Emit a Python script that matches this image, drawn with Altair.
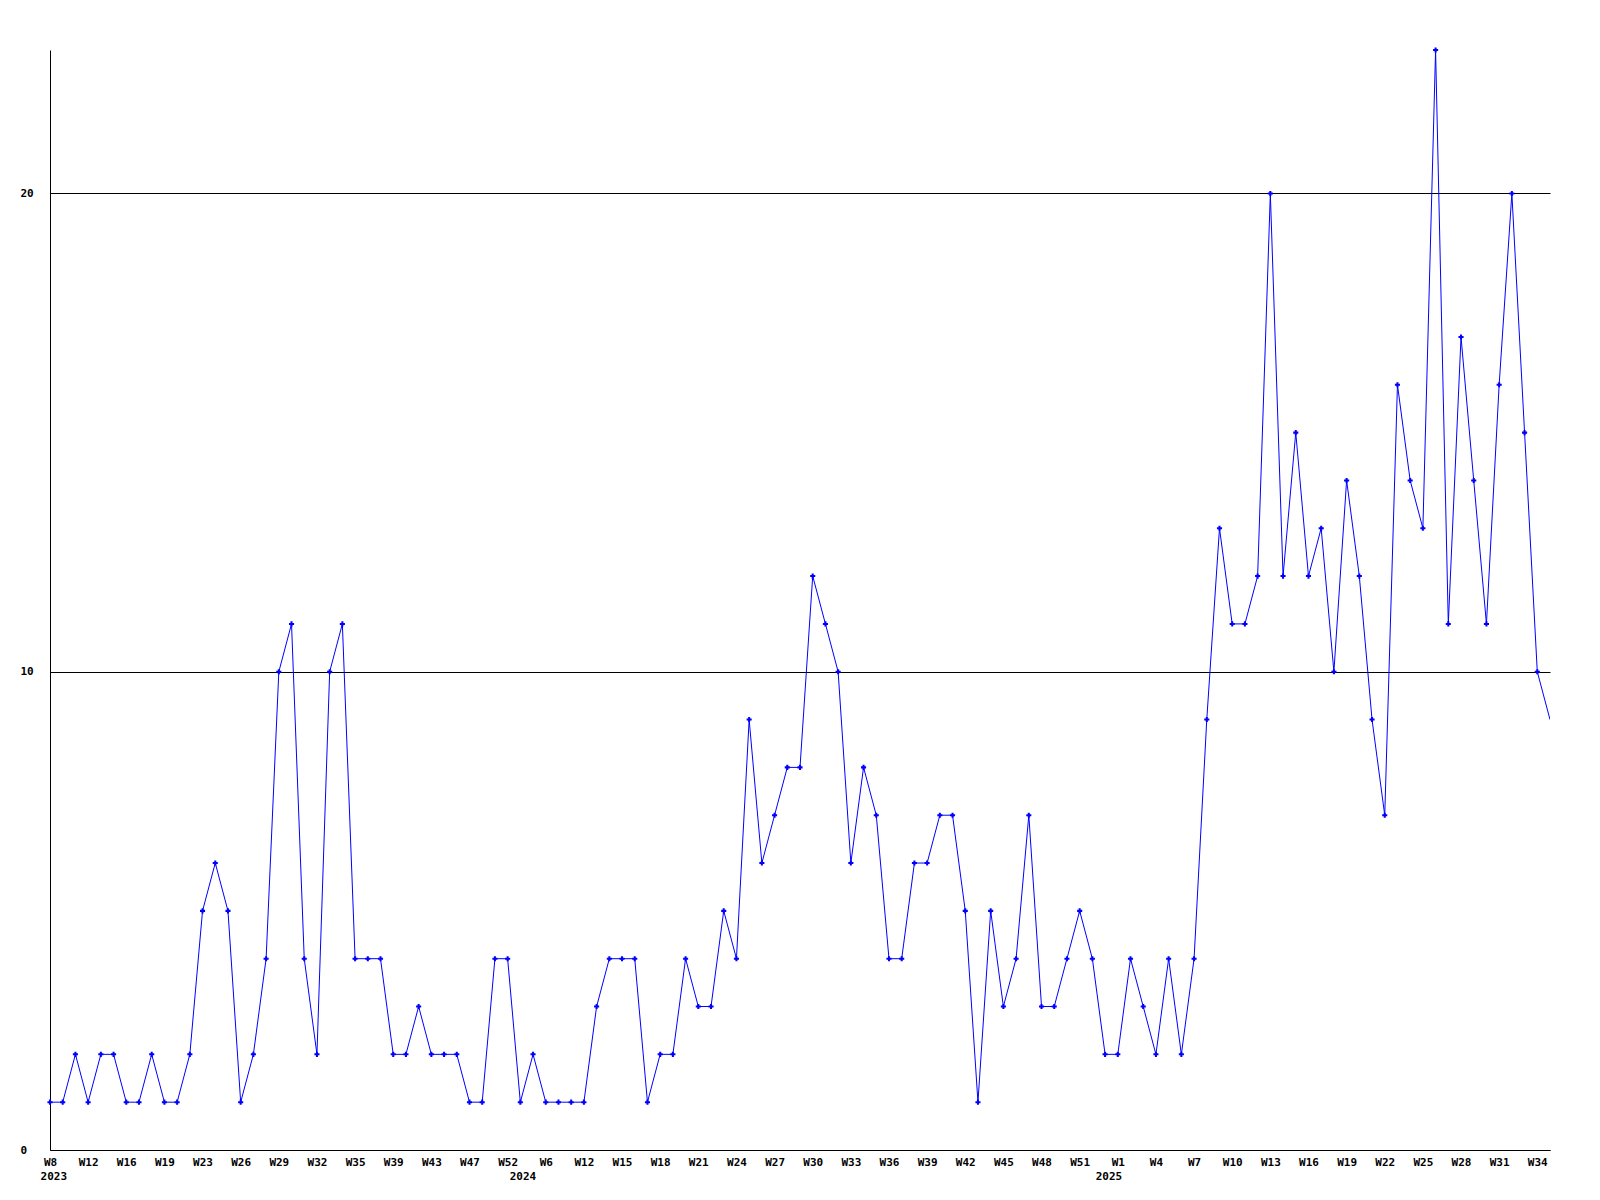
import altair as alt
import pandas as pd

# weekly counts, one per point (index 0..118)
counts = [1, 1, 2, 1, 2, 2, 1, 1, 2, 1, 1, 2,
          5, 6, 5, 1, 2, 4,
          10, 11, 4, 2, 10, 11,
          4, 4, 4,
          2, 2, 3, 2, 2, 2,
          1, 1,
          4, 4,
          1, 2, 1, 1, 1, 1,
          3, 4, 4, 4,
          1, 2, 2,
          4, 3, 3, 5, 4,
          9, 6, 7, 8, 8,
          12, 11, 10, 6, 8, 7,
          4, 4, 6, 6, 7, 7,
          5, 1, 5, 3, 4, 7, 3, 3, 4, 5,
          4, 2, 2, 4, 3, 2, 4, 2, 4,
          9, 13, 11, 11, 12, 20, 12, 15, 12, 13,
          10, 14, 12, 9, 7, 16, 14, 13, 23, 11,
          17, 14, 11, 16, 20, 15, 10, 9]

# tick labels, one every 3 points
tick_labels = ["W8", "W12", "W16", "W19", "W23", "W26", "W29", "W32", "W35", "W39",
               "W43", "W47", "W52", "W6", "W12", "W15", "W18", "W21", "W24", "W27",
               "W30", "W33", "W36", "W39", "W42", "W45", "W48", "W51", "W1", "W4",
               "W7", "W10", "W13", "W16", "W19", "W22", "W25", "W28", "W31", "W34"]
tick_step = 3

# year labels and where they sit along the index axis
years = ["2023", "2024", "2025"]
year_index = [0.3, 37.2, 83.3]

n = len(counts)
df = pd.DataFrame({"i": list(range(n)), "v": counts})
df_years = pd.DataFrame({"year": years, "i": year_index})

W, H = 1500, 1100
FONT = "DejaVu Sans Mono"
label_js = "[" + ",".join("'" + s + "'" for s in tick_labels) + "]"

xscale = alt.Scale(domain=[0, n - 1], nice=False, zero=False, padding=0)
yscale = alt.Scale(domain=[0, 23], nice=False)

x_axis = alt.Axis(
    values=[k * tick_step for k in range(len(tick_labels))],
    labelExpr=f"{label_js}[round(datum.value / {tick_step})]",
    ticks=False, grid=False, domain=True, domainColor="black", domainWidth=1,
    labelFont=FONT, labelFontWeight="bold", labelFontSize=11, labelColor="black",
    labelBaseline="middle", labelPadding=12, labelOverlap=False, labelFlush=False,
    labelBound=False, labelSeparation=0, title=None,
)
y_axis = alt.Axis(
    values=[0, 10, 20], format="d",
    ticks=False, grid=True, gridColor="black", gridOpacity=1, gridWidth=1,
    domain=True, domainColor="black", domainWidth=1,
    labelFont=FONT, labelFontWeight="bold", labelFontSize=11, labelColor="black",
    labelAlign="left", labelBaseline="middle", labelPadding=30, labelOverlap=False,
    title=None,
)

base = alt.Chart(df)

line = base.mark_line(color="#0000ff", strokeWidth=1, clip=True).encode(
    x=alt.X("i:Q", scale=xscale, axis=x_axis),
    y=alt.Y("v:Q", scale=yscale, axis=y_axis),
)

pts = base.transform_filter(f"datum.i < {n - 1}").mark_point(
    shape="cross", filled=True, color="#0000ff", size=26, opacity=1
).encode(
    x=alt.X("i:Q", scale=xscale, axis=x_axis),
    y=alt.Y("v:Q", scale=yscale, axis=y_axis),
)

year_text = alt.Chart(df_years).mark_text(
    font=FONT, fontWeight="bold", fontSize=11, color="black",
    align="center", baseline="middle", dy=27,
).encode(
    x=alt.X("i:Q", scale=xscale, axis=x_axis),
    y=alt.value(H),
    text="year:N",
)

chart = alt.layer(line, pts, year_text).properties(
    width=W, height=H,
    autosize=alt.AutoSizeParams(type="none"),
    padding={"left": 42, "top": 42, "right": 42, "bottom": 50},
    background="white",
).configure_view(stroke=None).configure_axis(labelOverlap=False)

chart.save("out.html", embed_options={"renderer": "svg", "actions": False})
